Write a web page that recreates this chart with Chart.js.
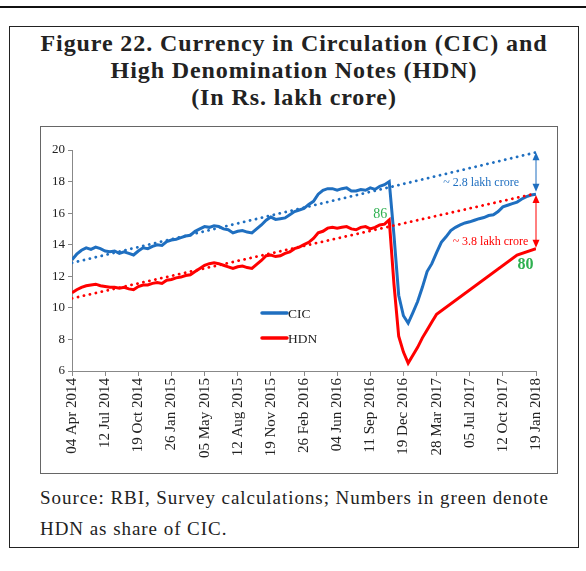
<!DOCTYPE html>
<html>
<head>
<meta charset="utf-8">
<script src="https://cdn.jsdelivr.net/npm/chart.js@4"></script>
<style>
  html, body { margin: 0; padding: 0; background: #fff; }
  body { width: 586px; height: 571px; position: relative; overflow: hidden; font-family: "Liberation Serif", "DejaVu Serif", serif; }
  #topline { position: absolute; left: 0; top: 6px; width: 586px; height: 2px; background: #111; }
  #outer { position: absolute; left: 9px; top: 26px; width: 570px; height: 522px; border: 1.5px solid #222; box-sizing: border-box; }
  #title { position: absolute; left: 9px; top: 30px; width: 570px; text-align: center; font-weight: bold; font-size: 24px; letter-spacing: 0.9px; line-height: 27px; color: #222; }
  #box { position: absolute; left: 40px; top: 126px; width: 518px; height: 348px; border: 1px solid #666; box-sizing: border-box; }
  #wrap { position: absolute; left: 41px; top: 127px; width: 516px; height: 346px; }
  #source { position: absolute; left: 40px; top: 482px; width: 545px; font-size: 19px; letter-spacing: 0.95px; line-height: 31px; color: #222; white-space: nowrap; }
</style>
</head>
<body>
<div id="topline"></div>
<div id="outer"></div>
<div id="title">Figure 22. Currency in Circulation (CIC) and<br>High Denomination Notes (HDN)<br>(In Rs. lakh crore)</div>
<div id="box"></div>
<div id="wrap"><canvas id="c" width="516" height="346"></canvas></div>
<div id="source">Source: RBI, Survey calculations; Numbers in green denote<br>HDN as share of CIC.</div>
<script>
// Tick labels (every 7th fortnightly observation)
const tickLabels = ['04 Apr 2014','12 Jul 2014','19 Oct 2014','26 Jan 2015','05 May 2015','12 Aug 2015','19 Nov 2015','26 Feb 2016','04 Jun 2016','11 Sep 2016','19 Dec 2016','28 Mar 2017','05 Jul 2017','12 Oct 2017','19 Jan 2018'];

// Currency in Circulation (Rs. lakh crore), fortnightly
const cic = [
  13.05,13.40,13.65,13.80,13.70,13.85,13.75,13.60,13.55,13.60,
  13.45,13.55,13.45,13.35,13.60,13.80,13.75,13.90,14.00,13.95,
  14.20,14.30,14.35,14.45,14.55,14.60,14.85,15.00,15.15,15.10,
  15.20,15.15,15.00,14.95,14.75,14.85,14.90,14.80,14.75,15.00,
  15.25,15.55,15.75,15.60,15.65,15.70,15.90,16.10,16.20,16.30,
  16.55,16.75,17.20,17.45,17.55,17.55,17.45,17.55,17.60,17.40,
  17.40,17.50,17.45,17.60,17.50,17.70,17.80,18.00,14.60,10.80,
  9.50,9.03,9.70,10.40,11.30,12.30,12.80,13.50,14.15,14.50,
  14.90,15.10,15.25,15.38,15.45,15.55,15.65,15.72,15.85,15.90,
  16.10,16.40,16.50,16.60,16.70,16.90,17.05,17.15,17.20
];

// High Denomination Notes (Rs. lakh crore), fortnightly; null = no observation
const hdn = [
  10.95,11.15,11.30,11.40,11.45,11.50,11.40,11.35,11.30,11.30,
  11.25,11.30,11.20,11.15,11.35,11.45,11.45,11.55,11.60,11.55,
  11.75,11.80,11.90,11.95,12.05,12.10,12.30,12.50,12.70,12.80,
  12.85,12.80,12.70,12.60,12.50,12.60,12.65,12.55,12.50,12.75,
  13.00,13.30,13.35,13.25,13.30,13.45,13.55,13.75,13.85,14.00,
  14.15,14.40,14.75,14.85,15.05,15.10,15.05,15.10,15.15,15.00,
  14.95,15.10,15.15,15.00,15.10,15.25,15.30,15.57,11.50,8.20,
  7.20,6.50,7.00,7.50,8.10,8.60,9.10,9.60,null,null,
  null,null,null,null,null,null,null,null,null,null,
  null,null,null,null,13.35,null,null,null,13.75
];

// Pre-demonetisation trend lines: [start index, start value, end index, end value]
const cicTrend = [0, 12.85, 98, 19.85];
const hdnTrend = [0, 10.60, 98, 17.25];

// Gap arrows at the last observation: [index, from value, to value]
const cicGapArrow = [98, 19.85, 17.35];
const hdnGapArrow = [98, 17.15, 13.80];

// Text annotations: [text, index, value]
const gapLabels = [['~ 2.8 lakh crore', 94.4, 17.9], ['~ 3.8 lakh crore', 96.4, 14.2]];
const shareLabels = [['86', 65.1, 15.9], ['80', 95.8, 12.7]];

const BLUE = '#1F6FC0', RED = '#FF0000', GREEN = '#2DB04F';
const FONT = '"Liberation Serif", "DejaVu Serif", serif';

const toPts = arr => arr.map((v, i) => ({ x: i, y: v }));
const trendPts = t => [{ x: t[0], y: t[1] }, { x: t[2], y: t[3] }];

const annot = {
  id: 'annot',
  afterDatasetsDraw(chart) {
    const ctx = chart.ctx, xs = chart.scales.x, ys = chart.scales.y;
    const arrow = (a, color) => {
      const x = xs.getPixelForValue(a[0]);
      const y1 = ys.getPixelForValue(a[1]), y2 = ys.getPixelForValue(a[2]);
      ctx.save();
      ctx.strokeStyle = color; ctx.fillStyle = color; ctx.lineWidth = 1;
      ctx.beginPath(); ctx.moveTo(x, y1 + 6); ctx.lineTo(x, y2 - 6); ctx.stroke();
      ctx.beginPath(); ctx.moveTo(x, y1); ctx.lineTo(x - 3.5, y1 + 8); ctx.lineTo(x + 3.5, y1 + 8); ctx.closePath(); ctx.fill();
      ctx.beginPath(); ctx.moveTo(x, y2); ctx.lineTo(x - 3.5, y2 - 8); ctx.lineTo(x + 3.5, y2 - 8); ctx.closePath(); ctx.fill();
      ctx.restore();
    };
    arrow(cicGapArrow, BLUE);
    arrow(hdnGapArrow, RED);
    ctx.save();
    ctx.textBaseline = 'middle';
    ctx.font = '12px ' + FONT;
    ctx.textAlign = 'right';
    ctx.fillStyle = BLUE;
    ctx.fillText(gapLabels[0][0], xs.getPixelForValue(gapLabels[0][1]), ys.getPixelForValue(gapLabels[0][2]));
    ctx.fillStyle = RED;
    ctx.fillText(gapLabels[1][0], xs.getPixelForValue(gapLabels[1][1]), ys.getPixelForValue(gapLabels[1][2]));
    ctx.textAlign = 'center';
    ctx.fillStyle = GREEN;
    ctx.font = '14px ' + FONT;
    ctx.fillText(shareLabels[0][0], xs.getPixelForValue(shareLabels[0][1]), ys.getPixelForValue(shareLabels[0][2]));
    ctx.font = 'bold 16px ' + FONT;
    ctx.fillText(shareLabels[1][0], xs.getPixelForValue(shareLabels[1][1]), ys.getPixelForValue(shareLabels[1][2]));
    // legend
    const lx = chart.chartArea.left + 190, ly = chart.chartArea.top + 163;
    const items = [['CIC', BLUE], ['HDN', RED]];
    ctx.font = '13.5px ' + FONT;
    ctx.textAlign = 'left';
    items.forEach((it, k) => {
      const y = ly + k * 25;
      ctx.strokeStyle = it[1]; ctx.lineWidth = 3.5; ctx.lineCap = 'round';
      ctx.beginPath(); ctx.moveTo(lx, y); ctx.lineTo(lx + 25, y); ctx.stroke();
      ctx.fillStyle = '#222';
      ctx.fillText(it[0], lx + 26, y + 1);
    });
    ctx.restore();
  }
};

new Chart(document.getElementById('c'), {
  type: 'line',
  data: {
    datasets: [
      { label: 'CIC trend', data: trendPts(cicTrend), borderColor: BLUE, borderWidth: 2.8, borderDash: [0.1, 6], borderCapStyle: 'round', pointRadius: 0, fill: false },
      { label: 'HDN trend', data: trendPts(hdnTrend), borderColor: RED, borderWidth: 2.8, borderDash: [0.1, 6], borderCapStyle: 'round', pointRadius: 0, fill: false },
      { label: 'CIC', data: toPts(cic), borderColor: BLUE, borderWidth: 3, pointRadius: 0, tension: 0, fill: false },
      { label: 'HDN', data: toPts(hdn), borderColor: RED, borderWidth: 3, pointRadius: 0, tension: 0, spanGaps: true, fill: false }
    ]
  },
  options: {
    responsive: false,
    animation: false,
    layout: { padding: { top: 23, right: 21, left: 0, bottom: 0 } },
    plugins: { legend: { display: false }, tooltip: { enabled: false } },
    scales: {
      x: {
        type: 'linear', min: 0, max: 98,
        afterFit(s) { s.height = 102; },
        ticks: {
          stepSize: 7, autoSkip: false, maxRotation: 90, minRotation: 90,
          color: '#222', font: { family: FONT, size: 15 }, padding: 2,
          callback: v => tickLabels[v / 7]
        },
        grid: { display: true, drawOnChartArea: false, drawTicks: true, tickLength: 5, color: '#888' },
        border: { display: true, color: '#888', width: 1 }
      },
      y: {
        min: 6, max: 20,
        afterFit(s) { s.width = 31; },
        ticks: { stepSize: 2, color: '#222', font: { family: FONT, size: 13 }, padding: 3 },
        grid: { display: true, drawOnChartArea: false, drawTicks: true, tickLength: 4, color: '#888' },
        border: { display: true, color: '#888', width: 1 }
      }
    }
  },
  plugins: [annot]
});
</script>
</body>
</html>
